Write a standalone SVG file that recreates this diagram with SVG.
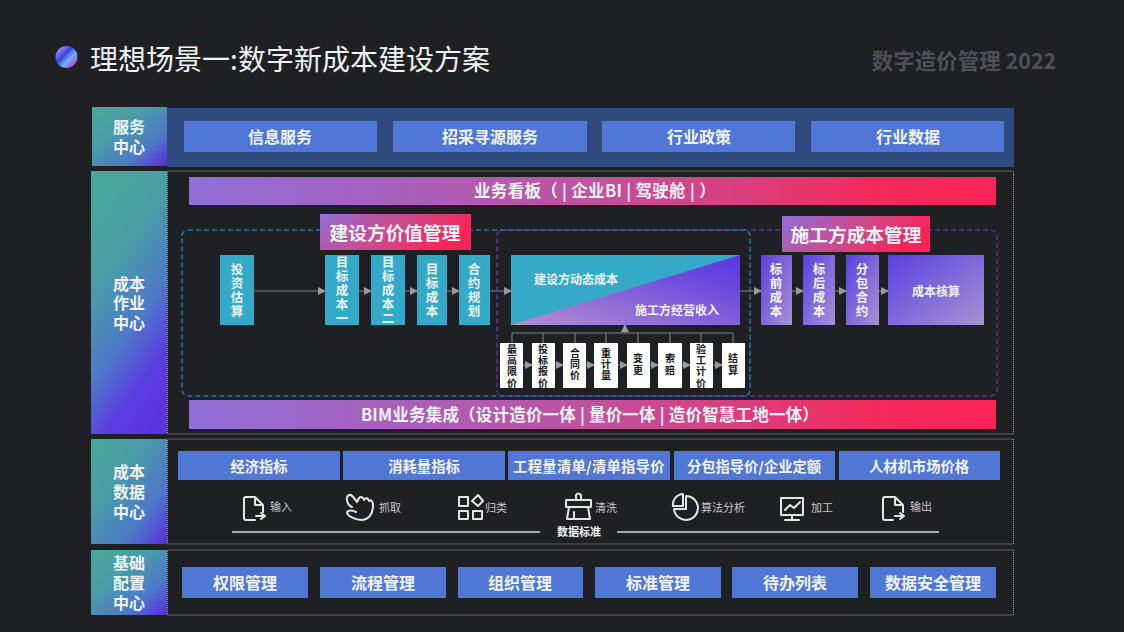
<svg xmlns="http://www.w3.org/2000/svg" width="1124" height="632" viewBox="0 0 1124 632">
<style>
text{font-family:"Noto Sans CJK SC","Noto Sans",sans-serif;fill:#f2f3f7;text-anchor:middle;dominant-baseline:central;font-weight:700;transform:translateY(-1px)}
.btn{fill:#5077d6}
.dot{fill:none;stroke:#a0a0a0;stroke-width:1;stroke-dasharray:1 1}
.teal{fill:#34a9c8}
.pur{fill:url(#gPur)}
.wh{fill:#fff}
.v{writing-mode:vertical-rl;font-size:12.500px;letter-spacing:1.500px;transform:none}
.wt{writing-mode:vertical-rl;fill:#15161a;font-size:10px;letter-spacing:1.300px;transform:none}
.t16{font-size:16px}
.t14{font-size:14.300px}
.t12{font-size:12px}
.side{font-size:16px}
.con{stroke:#858585;stroke-width:1;fill:none}
.ic{fill:none;stroke:#e6e6e6;stroke-width:2;stroke-linejoin:round;stroke-linecap:round}
.lab{font-size:11px;font-weight:400;fill:#c9c9cc}
</style>
<defs>
<linearGradient id="gSide" x1="0" y1="0" x2="1" y2="1"><stop offset="0" stop-color="#4aa89a"/><stop offset=".35" stop-color="#4a9da6"/><stop offset=".72" stop-color="#4d78c8"/><stop offset="1" stop-color="#5a2be0"/></linearGradient>
<linearGradient id="gMain" x1=".3" y1="0" x2=".7" y2="1"><stop offset="0" stop-color="#4aa89a"/><stop offset=".3" stop-color="#4a9da6"/><stop offset=".6" stop-color="#4d78c8"/><stop offset=".82" stop-color="#5a3ee0"/><stop offset="1" stop-color="#5a34e0"/></linearGradient>
<linearGradient id="gBan" x1="0" y1="0" x2="1" y2="0"><stop offset="0" stop-color="#8f6fd8"/><stop offset=".5" stop-color="#c0529f"/><stop offset=".85" stop-color="#f52a5c"/><stop offset="1" stop-color="#fb2458"/></linearGradient>
<linearGradient id="gTitle" x1="0" y1="0" x2="1" y2=".3"><stop offset="0" stop-color="#8f6fd8"/><stop offset=".55" stop-color="#cc4a8c"/><stop offset="1" stop-color="#fb2458"/></linearGradient>
<linearGradient id="gPur" x1="0" y1="0" x2="1" y2="1"><stop offset="0" stop-color="#5a3fe0"/><stop offset="1" stop-color="#a594d2"/></linearGradient>
<linearGradient id="gTri" x1="0" y1="1" x2="1" y2="0"><stop offset="0" stop-color="#b78fcf"/><stop offset=".75" stop-color="#6a48de"/><stop offset="1" stop-color="#5b35e4"/></linearGradient>
<linearGradient id="gBall" x1="0" y1="0" x2="1" y2="1"><stop offset="0" stop-color="#c4bdf2"/><stop offset=".4" stop-color="#3d3fe0"/><stop offset=".62" stop-color="#6fb4f0"/><stop offset=".8" stop-color="#a05be0"/><stop offset="1" stop-color="#f03d8a"/></linearGradient>
<marker id="arr" viewBox="0 0 8 8" refX="7" refY="4" markerWidth="8" markerHeight="8" markerUnits="userSpaceOnUse" orient="auto"><path d="M0 0L8 4L0 8z" fill="#9a9a9a"/></marker>
</defs>
<rect width="1124" height="632" fill="#1f2024"/>
<g id="title">
<circle cx="66.500" cy="57" r="11" fill="url(#gBall)"/>
<text x="290" y="59" font-size="28" style="font-weight:400">理想场景一:数字新成本建设方案</text>
<text x="964" y="60" font-size="21.500" style="fill:#4f5055">数字造价管理 2022</text>
</g>
<g id="band-frames">
<rect x="167" y="108" width="847" height="59" fill="#2f4a7c"/>
<rect class="dot" x="167.500" y="171" width="846" height="263"/>
<rect class="dot" x="167.500" y="439" width="846" height="105"/>
<rect class="dot" x="167.500" y="550" width="846" height="65"/>
</g>
<g id="side-service"><rect x="92" y="107" width="75" height="59" fill="url(#gSide)"/><text class="side"><tspan x="129" y="127">服务</tspan><tspan x="129" y="147">中心</tspan></text></g>
<g id="side-cost"><rect x="91" y="171" width="76" height="263" fill="url(#gMain)"/><text class="side"><tspan x="129" y="284">成本</tspan><tspan x="129" y="303">作业</tspan><tspan x="129" y="323">中心</tspan></text></g>
<g id="side-data"><rect x="91" y="439" width="76" height="105" fill="url(#gSide)"/><text class="side"><tspan x="129" y="472">成本</tspan><tspan x="129" y="492">数据</tspan><tspan x="129" y="512">中心</tspan></text></g>
<g id="side-base"><rect x="91" y="550" width="76" height="65" fill="url(#gSide)"/><text class="side"><tspan x="129" y="563">基础</tspan><tspan x="129" y="583">配置</tspan><tspan x="129" y="603">中心</tspan></text></g>
<g id="svc1"><rect class="btn" x="184" y="121" width="193" height="31"/><text class="t16" x="280" y="137">信息服务</text></g>
<g id="svc2"><rect class="btn" x="393" y="121" width="194" height="31"/><text class="t16" x="490" y="137">招采寻源服务</text></g>
<g id="svc3"><rect class="btn" x="602" y="121" width="193" height="31"/><text class="t16" x="699" y="137">行业政策</text></g>
<g id="svc4"><rect class="btn" x="811" y="121" width="193" height="31"/><text class="t16" x="908" y="137">行业数据</text></g>
<g id="banner-top"><rect x="189" y="177" width="807" height="28" fill="url(#gBan)"/><text x="595" y="191" font-size="16.500" letter-spacing=".3">业务看板（ | 企业BI | 驾驶舱 | ）</text></g>
<g id="banner-bim"><rect x="189" y="400" width="807" height="29" fill="url(#gBan)"/><text x="590" y="415" font-size="16.500" letter-spacing=".2">BIM业务集成（设计造价一体 | 量价一体 | 造价智慧工地一体）</text></g>
<g id="regions">
<rect x="497" y="230" width="500" height="166" rx="6" fill="none" stroke="#5c2f8c" stroke-width="1.500" stroke-dasharray="5 3"/>
<rect x="182" y="230" width="568" height="166" rx="6" fill="none" stroke="#1f7aa8" stroke-width="1.500" stroke-dasharray="5 3"/>
</g>
<g id="title-owner"><rect x="320" y="214" width="151" height="36" fill="url(#gTitle)"/><text x="395" y="232" font-size="18.700">建设方价值管理</text></g>
<g id="title-contractor"><rect x="782" y="216" width="148" height="36" fill="url(#gTitle)"/><text x="856" y="234" font-size="18.700">施工方成本管理</text></g>
<g id="connectors">
<path class="con" marker-end="url(#arr)" d="M254 291H325"/>
<path class="con" marker-end="url(#arr)" d="M359 291H371"/>
<path class="con" marker-end="url(#arr)" d="M405 291H417"/>
<path class="con" marker-end="url(#arr)" d="M447 291H459"/>
<path class="con" marker-end="url(#arr)" d="M490 291H511"/>
<path class="con" marker-end="url(#arr)" d="M740 291H761"/>
<path class="con" marker-end="url(#arr)" d="M792 291H803"/>
<path class="con" marker-end="url(#arr)" d="M835 291H846"/>
<path class="con" marker-end="url(#arr)" d="M879 291H888"/>
<path class="con" d="M512 343V333H733V343M543 333V343M575 333V343M606 333V343M638 333V343M670 333V343M701 333V343"/>
<path class="con" marker-end="url(#arr)" d="M625 333V325"/>
<path class="con" marker-end="url(#arr)" d="M523 365H532"/>
<path class="con" marker-end="url(#arr)" d="M555 365H563"/>
<path class="con" marker-end="url(#arr)" d="M586 365H594"/>
<path class="con" marker-end="url(#arr)" d="M618 365H627"/>
<path class="con" marker-end="url(#arr)" d="M650 365H658"/>
<path class="con" marker-end="url(#arr)" d="M682 365H690"/>
<path class="con" marker-end="url(#arr)" d="M713 365H722"/>
</g>
<g id="n-invest"><rect class="teal" x="220" y="255" width="34" height="70"/><text class="v" x="237" y="291">投资估算</text></g>
<g id="n-target1"><rect class="teal" x="325" y="255" width="34" height="70"/><text class="v" x="342" y="291">目标成本一</text></g>
<g id="n-target2"><rect class="teal" x="371" y="255" width="34" height="70"/><text class="v" x="388" y="291">目标成本二</text></g>
<g id="n-target3"><rect class="teal" x="417" y="255" width="30" height="70"/><text class="v" x="432" y="291">目标成本</text></g>
<g id="n-contract"><rect class="teal" x="459" y="255" width="31" height="70"/><text class="v" x="474" y="291">合约规划</text></g>
<g id="n-dynamic">
<rect class="teal" x="511" y="255" width="229" height="70"/>
<path d="M511 325L740 255V325z" fill="url(#gTri)"/>
<text class="t12" x="576" y="279">建设方动态成本</text>
<text class="t12" x="677" y="310">施工方经营收入</text>
</g>
<g id="w1"><rect class="wh" x="500" y="343" width="23" height="45"/><text class="wt" x="512" y="366.500">最高限价</text></g>
<g id="w2"><rect class="wh" x="532" y="343" width="23" height="45"/><text class="wt" x="543" y="366.500">投标报价</text></g>
<g id="w3"><rect class="wh" x="563" y="343" width="23" height="45"/><text class="wt" x="575" y="365">合同价</text></g>
<g id="w4"><rect class="wh" x="594" y="343" width="24" height="45"/><text class="wt" x="606" y="365">重计量</text></g>
<g id="w5"><rect class="wh" x="627" y="343" width="23" height="45"/><text class="wt" x="638" y="365">变更</text></g>
<g id="w6"><rect class="wh" x="658" y="343" width="24" height="45"/><text class="wt" x="670" y="365">索赔</text></g>
<g id="w7"><rect class="wh" x="690" y="343" width="23" height="45"/><text class="wt" x="701" y="366.500">验工计价</text></g>
<g id="w8"><rect class="wh" x="722" y="343" width="23" height="45"/><text class="wt" x="733" y="365">结算</text></g>
<g id="n-pre"><rect class="pur" x="761" y="255" width="31" height="70"/><text class="v" x="776" y="291">标前成本</text></g>
<g id="n-post"><rect class="pur" x="803" y="255" width="32" height="70"/><text class="v" x="819" y="291">标后成本</text></g>
<g id="n-sub"><rect class="pur" x="846" y="255" width="33" height="70"/><text class="v" x="862" y="291">分包合约</text></g>
<g id="n-account"><rect class="pur" x="888" y="255" width="96" height="70"/><text class="t12" x="936" y="291">成本核算</text></g>
<g id="d1"><rect class="btn" x="178" y="451" width="162" height="29"/><text class="t14" x="259" y="466">经济指标</text></g>
<g id="d2"><rect class="btn" x="343" y="451" width="162" height="29"/><text class="t14" x="424" y="466">消耗量指标</text></g>
<g id="d3"><rect class="btn" x="508" y="451" width="162" height="29"/><text class="t14" x="589" y="466" letter-spacing=".3">工程量清单/清单指导价</text></g>
<g id="d4"><rect class="btn" x="674" y="451" width="161" height="29"/><text class="t14" x="754" y="466">分包指导价/企业定额</text></g>
<g id="d5"><rect class="btn" x="839" y="451" width="161" height="29"/><text class="t14" x="919" y="466">人材机市场价格</text></g>
<g id="icons">
<path class="ic" d="M255 520H246Q244 520 244 518V499Q244 497 246 497H255L263 505V512M255 497V505H263M256 516H264M261 513L265 516L261 519"/>
<text class="lab" x="281" y="507">输入</text>
<path class="ic" d="M352 507C347 505 345 497 349 495C352 494 354 498 357 502L359 498C361 496 363 497 364 500C366 497 368 498 369 501C371 499 373 502 373 505C373 512 371 519 362 520C355 520 348 516 347 513C347 510 352 510 356 512"/>
<text class="lab" x="390" y="508">抓取</text>
<path class="ic" d="M459 497H468V506H459zM459 511H468V519H459zM473 511H482V519H473zM478 495L483 501L478 506L472 501z"/>
<text class="lab" x="496" y="508">归类</text>
<path class="ic" d="M566 500H591V507H566zM576 500V495Q578 492 581 495V500M569 507L567 519H590L588 507M574 512V519"/>
<text class="lab" x="606" y="508">清洗</text>
<path class="ic" d="M686 496A12 12 0 1 1 674 509H686zM683 494V506H673A10.500 10.500 0 0 1 683 494"/>
<text class="lab" x="723" y="508">算法分析</text>
<path class="ic" d="M781 498H803V515H781zM792 515V519M785 520H799M785 510L790 505L794 508L800 502"/>
<text class="lab" x="822" y="508">加工</text>
<path class="ic" d="M893 520H885Q883 520 883 518V499Q883 497 885 497H895L903 505V512M895 497V505H903M895 516H903M900 513L904 516L900 519"/>
<text class="lab" x="921" y="507">输出</text>
</g>
<g id="data-standard">
<path d="M232 532H540M617 532H939" stroke="#d8d8d8" stroke-width="1.500" fill="none"/>
<text x="579" y="532" font-size="11">数据标准</text>
</g>
<g id="b1"><rect class="btn" x="182" y="567" width="126" height="31"/><text class="t16" x="245" y="583">权限管理</text></g>
<g id="b2"><rect class="btn" x="320" y="567" width="126" height="31"/><text class="t16" x="383" y="583">流程管理</text></g>
<g id="b3"><rect class="btn" x="458" y="567" width="125" height="31"/><text class="t16" x="520" y="583">组织管理</text></g>
<g id="b4"><rect class="btn" x="595" y="567" width="126" height="31"/><text class="t16" x="658" y="583">标准管理</text></g>
<g id="b5"><rect class="btn" x="732" y="567" width="126" height="31"/><text class="t16" x="795" y="583">待办列表</text></g>
<g id="b6"><rect class="btn" x="870" y="567" width="126" height="31"/><text class="t16" x="933" y="583">数据安全管理</text></g>
</svg>
